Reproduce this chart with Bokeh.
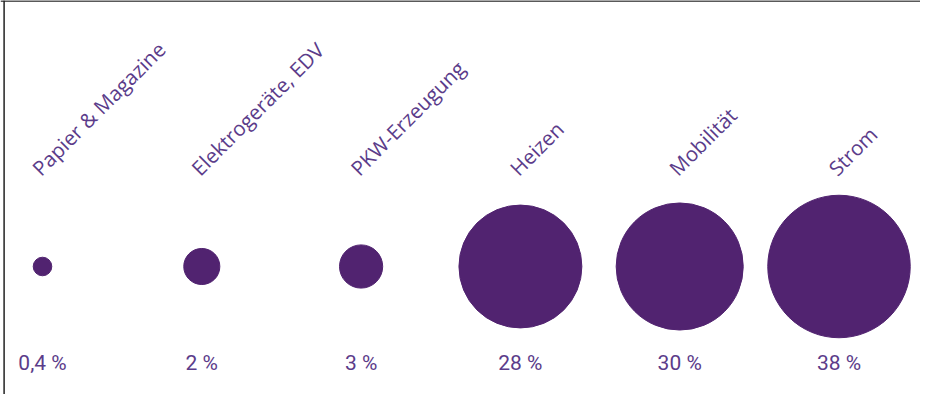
import math
from bokeh.plotting import figure
from bokeh.models import ColumnDataSource, Range1d, Span
from bokeh.core.properties import value
from bokeh.embed import file_html
from bokeh.resources import INLINE

# ---- data ----
categories = ["Papier & Magazine", "Elektrogeräte, EDV", "PKW-Erzeugung", "Heizen", "Mobilität", "Strom"]
shares = [0.4, 2, 3, 28, 30, 38]
share_labels = ["0,4 %", "2 %", "3 %", "28 %", "30 %", "38 %"]

# ---- styling ----
CIRCLE = "#512370"
TEXT = "#5b3c8a"

W, H = 920, 394
STEP = 159.3          # px between category centres
FIRST = 42            # px from plot's left edge to first centre
CENTER_Y = 266        # px from top of plot to circle centres

idx = list(range(len(categories)))
# bubble area scaled with share (diameter in screen px)
sizes = [2 * (11.2 * math.sqrt(v) + 2.2) for v in shares]

src = ColumnDataSource(dict(x=idx, y=[0] * len(idx), size=sizes,
                            cat=categories, lab=share_labels))

x0 = -FIRST / STEP
p = figure(width=W, height=H, output_backend="svg", toolbar_location=None, tools="",
           x_range=Range1d(x0, x0 + W / STEP),
           y_range=Range1d(-(H - CENTER_Y), CENTER_Y),
           min_border=0, outline_line_color=None, background_fill_color="white",
           border_fill_color="white")
p.axis.visible = False
p.grid.visible = False

p.scatter("x", "y", size="size", source=src, fill_color=CIRCLE, line_color=CIRCLE,
          line_width=1)

# rotated category labels
p.text("x", "y", text="cat", source=src, y_offset=-95, x_offset=-7, angle=math.pi / 4,
       text_align="left", text_baseline="alphabetic", text_color=TEXT,
       text_font=value("Open Sans"), text_font_size="20.5px")

# percentage labels
p.text("x", "y", text="lab", source=src, y_offset=96, text_align="center",
       text_baseline="middle", text_color=TEXT,
       text_font=value("Roboto"), text_font_size="21px")

# frame lines (top and left)
p.add_layout(Span(location=CENTER_Y - 0.6, dimension="width", line_color="#222222", line_width=1.5))
p.add_layout(Span(location=x0 + 3.6 / STEP, dimension="height", line_color="#222222", line_width=1.5))

open("out.html", "w").write(file_html(p, INLINE))
